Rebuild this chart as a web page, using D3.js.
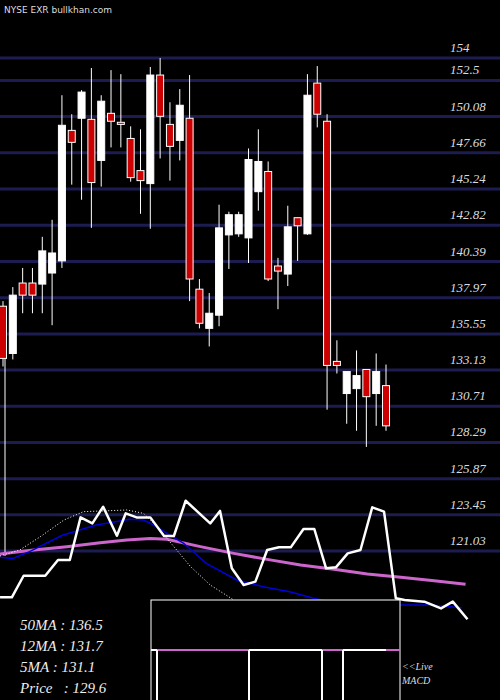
<!DOCTYPE html>
<html><head><meta charset="utf-8">
<script src="https://cdn.jsdelivr.net/npm/d3@7"></script>
<style>body{margin:0;background:#000}svg{display:block}</style>
</head><body>
<svg id="c" width="500" height="700"></svg>
<script>
'use strict';

// candles: open, high, low, close
var opens  = [137.40,134.24,138.95,138.95,138.88,139.62,140.43,149.16,149.97,149.90,147.15,150.30,149.70,148.62,146.47,145.60,152.86,149.56,148.49,149.97,138.54,135.92,136.80,142.17,142.24,141.97,145.06,146.41,140.09,139.55,143.32,142.24,152.32,149.77,133.71,131.56,131.89,133.17,131.56,132.09];
var highs  = [137.74,138.68,139.96,139.96,142.04,143.18,151.51,150.24,151.85,153.33,151.51,153.19,152.92,149.43,149.23,153.40,154.00,151.04,151.92,152.86,139.22,138.28,144.19,143.72,143.72,147.95,149.23,147.08,140.63,144.12,143.32,152.92,153.46,150.24,135.12,133.03,134.44,133.17,134.24,133.50];
var lows   = [133.37,133.84,136.93,136.93,136.93,136.13,139.96,145.53,144.52,142.64,145.40,148.02,148.02,145.73,143.58,142.58,147.28,145.80,147.15,137.74,135.92,134.71,136.06,139.89,142.04,140.29,143.79,139.08,137.20,138.75,140.43,142.17,149.36,130.48,132.90,129.54,129.07,127.99,129.40,129.07];
var closes = [133.91,138.14,138.14,138.14,141.10,140.96,149.50,148.36,151.72,145.67,151.11,149.77,149.56,146.00,145.80,152.86,150.10,148.09,150.84,139.22,136.26,136.93,142.64,143.52,143.52,147.21,147.08,139.22,139.75,142.71,142.78,151.51,150.24,133.44,133.44,133.03,132.76,131.35,133.03,129.40];

var priceTicks = [154,152.5,150.08,147.66,145.24,142.82,140.39,137.97,135.55,133.13,130.71,128.29,125.87,123.45,121.03];

// lower panel series (x in day units, y in indicator units)
var priceX = [-0.3,0.9,2.1,4.3,5.6,6.8,7.9,9.1,10.2,11.6,12.5,13.6,15,16.4,17.4,18.6,19.8,21.1,22.1,23.3,24.5,25.7,26.9,28.1,29.3,30.6,31.7,32.9,33.9,35.1,36.4,37.6,38.8,40,40.9,42.9,44.6,45.8,47.3];
var priceY = [16.2,16.2,31.6,31.6,42.9,42.9,73.3,69,80.9,60.2,76.2,73.3,73.3,60,60,85.2,77.4,69,77.9,36.9,25,27.4,50,51.9,51.9,65,65,36.9,37.6,47.6,50,80.5,77.4,15.5,14.3,13.1,8.3,13.1,0.5];
var ma12X = [-0.3,1,2.7,6.1,9.5,12.9,14.3,15.3,17,18.4,20.7,23.8,26.5,29.2,31.6,33.3,36.7,40,43.5,46.7];
var ma12Y = [44.8,44.0,48.8,60.7,67.9,71.9,71.4,67.9,60.7,54.8,40.5,28.6,23.8,20.2,15.5,13.1,10.7,10.7,10.7,8.8];
var ma50X = [-0.3,3.1,6.5,9.9,12.6,15,16.7,20.1,23.5,26.9,30.3,33.7,37.1,40.5,43.9,47.1];
var ma50Y = [47.1,50,52.4,55.2,57.1,58.3,57.6,52.4,47.6,43.3,39.3,36.2,32.9,30.5,28.1,25.5];
var ma5X = [-0.3,1.7,3.8,6.2,8.2,10.9,12.6,14.3,15.7,17.4,19.1,21.1,23.5];
var ma5Y = [45.7,50,59.5,71.4,77.4,78.1,78.6,76.2,66.7,52.4,38.1,25,14.3];

var legend = ['50MA : 136.5','12MA : 131.7','5MA : 131.1','Price   : 129.6'];

var svg = d3.select('#c');
svg.append('rect').attr('width',500).attr('height',700).attr('fill','#000');

var x = d3.scaleLinear().domain([0,39]).range([3,386]);
var y = d3.scaleLinear().domain([154,121.03]).range([58,551]);
var lx = d3.scaleLinear().domain([0,39]).range([3,386]);
var ly = d3.scaleLinear().domain([0,100]).range([620,480]);

// grid + labels
svg.selectAll('line.grid').data(priceTicks).enter().append('line')
    .attr('x1',0).attr('x2',500)
    .attr('y1',function(d){return y(d);}).attr('y2',function(d){return y(d);})
    .attr('stroke','#1c1c50').attr('stroke-width',3);
svg.selectAll('text.tick').data(priceTicks).enter().append('text')
    .attr('x',450).attr('y',function(d){return y(d)-6;})
    .attr('fill','#ddd').attr('font-family','Liberation Serif').attr('font-style','italic')
    .attr('font-size',13).text(function(d){return d;});

svg.append('text').attr('x',4).attr('y',13).attr('fill','#ddd')
    .attr('font-family','DejaVu Sans').attr('font-size',9).text('NYSE EXR bullkhan.com');

// left marker line
svg.append('line').attr('x1',5).attr('x2',5).attr('y1',340).attr('y2',556)
    .attr('stroke','#fff').attr('stroke-width',1);

// candles
var idx = d3.range(opens.length);
svg.selectAll('line.wick').data(idx).enter().append('line')
    .attr('x1',function(i){return x(i);}).attr('x2',function(i){return x(i);})
    .attr('y1',function(i){return y(highs[i]);}).attr('y2',function(i){return y(lows[i]);})
    .attr('stroke','#fff').attr('stroke-width',1);
svg.selectAll('rect.body').data(idx).enter().append('rect')
    .attr('x',function(i){return x(i)-3.5;}).attr('width',7)
    .attr('y',function(i){return y(Math.max(opens[i],closes[i]));})
    .attr('height',function(i){return Math.max(2,Math.abs(y(opens[i])-y(closes[i])));})
    .attr('fill',function(i){return closes[i]>=opens[i]?'#fff':'#cc0000';})
    .attr('stroke','#fff').attr('stroke-width',1);

// lower panel lines
function pts(xs,ys){return xs.map(function(v,i){return [lx(v),ly(ys[i])];});}
var line = d3.line();
svg.append('path').attr('d',line(pts(ma50X,ma50Y))).attr('fill','none')
    .attr('stroke','#cc66cc').attr('stroke-width',3);
svg.append('path').attr('d',line(pts(ma12X,ma12Y))).attr('fill','none')
    .attr('stroke','#0000dd').attr('stroke-width',1.5);
svg.append('path').attr('d',line(pts(ma5X,ma5Y))).attr('fill','none')
    .attr('stroke','#fff').attr('stroke-width',1).attr('stroke-dasharray','1,2');
svg.append('path').attr('d',line(pts(priceX,priceY))).attr('fill','none')
    .attr('stroke','#fff').attr('stroke-width',2.5).attr('stroke-linejoin','round');

// MACD box
svg.append('rect').attr('x',151).attr('y',600).attr('width',249).attr('height',110)
    .attr('fill','#000').attr('stroke','#fff').attr('stroke-width',1);
svg.append('line').attr('x1',151).attr('x2',400).attr('y1',650).attr('y2',650)
    .attr('stroke','#cc66cc').attr('stroke-width',2);
var macdSeg = [[151,157],[249,322],[343,386]];
svg.selectAll('line.mseg').data(macdSeg).enter().append('line')
    .attr('x1',function(d){return d[0];}).attr('x2',function(d){return d[1];})
    .attr('y1',650).attr('y2',650).attr('stroke','#fff').attr('stroke-width',2);
var macdBars = [157,249,322,343];
svg.selectAll('line.mbar').data(macdBars).enter().append('line')
    .attr('x1',function(d){return d;}).attr('x2',function(d){return d;})
    .attr('y1',650).attr('y2',700).attr('stroke','#fff').attr('stroke-width',2);

// legend
svg.selectAll('text.leg').data(legend).enter().append('text')
    .attr('x',20).attr('y',function(d,i){return 630+i*21;})
    .attr('fill','#eee').attr('font-family','Liberation Serif').attr('font-style','italic')
    .attr('font-size',15).attr('xml:space','preserve').text(function(d){return d;});
svg.append('text').attr('x',402).attr('y',670).attr('fill','#ddd').attr('font-family','Liberation Serif')
    .attr('font-style','italic').attr('font-size',10).text('<<Live');
svg.append('text').attr('x',402).attr('y',684).attr('fill','#ddd').attr('font-family','Liberation Serif')
    .attr('font-style','italic').attr('font-size',10).text('MACD');
</script>
</body></html>
